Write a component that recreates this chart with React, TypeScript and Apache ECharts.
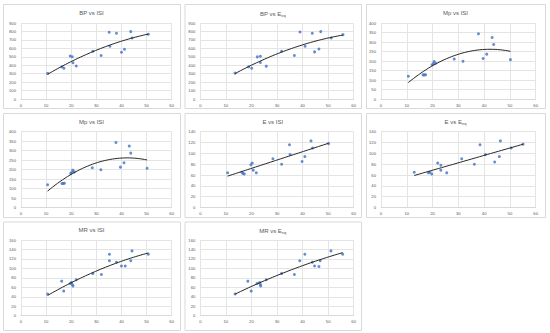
import React, { useEffect, useRef } from "react";
import * as echarts from "echarts";

// ---- data ----
const xTicks = [0, 10, 20, 30, 40, 50, 60];

const bpIsi: number[][] = [
  [10.6, 303], [16.3, 380], [17.1, 365], [19.6, 510], [20.4, 500], [20.7, 430], [22.0, 390],
  [28.6, 566], [31.9, 515], [35.1, 790], [35.4, 625], [38.0, 778], [40.0, 554], [41.2, 590],
  [43.7, 798], [44.2, 723], [50.7, 766],
];
const bpEeq: number[][] = [
  [13.6, 306], [18.9, 381], [20.1, 365], [22.3, 499], [23.5, 507], [23.5, 432], [25.8, 389],
  [31.8, 566], [36.8, 515], [39.0, 794], [41.0, 625], [43.8, 778], [44.7, 558], [46.4, 593],
  [47.1, 798], [51.2, 723], [55.8, 762],
];
const mpIsi: number[][] = [
  [10.6, 120], [16.3, 127], [16.8, 127], [17.3, 128], [19.8, 180], [20.3, 186], [20.6, 197],
  [21.2, 188], [28.4, 210], [31.8, 199], [37.8, 343], [39.6, 213], [41.0, 236], [43.1, 324],
  [43.7, 287], [50.2, 207],
];
const eIsi: number[][] = [
  [10.7, 64], [16.2, 65], [16.7, 63], [17.2, 62], [19.8, 79], [20.3, 82], [20.7, 69], [21.9, 64],
  [28.4, 90], [31.8, 80], [34.9, 116], [35.1, 98], [39.8, 85], [40.9, 94], [43.3, 123],
  [43.9, 110], [50.2, 118],
];
const eEeq: number[][] = [
  [12.9, 65], [18.4, 64], [19.0, 65], [19.7, 62], [22.0, 82], [23.2, 78], [23.2, 69], [25.5, 64],
  [31.3, 90], [36.2, 80], [38.4, 116], [40.5, 98], [44.1, 84], [45.9, 94], [46.3, 123],
  [50.5, 110], [55.1, 117],
];
const mrIsi: number[][] = [
  [10.6, 46], [16.2, 73], [17.0, 52], [19.6, 68], [20.1, 70], [20.4, 66], [20.7, 63], [22.0, 76],
  [28.6, 89], [32.0, 87], [35.2, 130], [35.2, 116], [38.0, 113], [40.0, 105], [41.5, 105],
  [43.7, 116], [44.2, 137], [50.7, 130],
];
const mrEeq: number[][] = [
  [13.6, 46], [18.6, 73], [19.9, 52], [22.2, 68], [23.2, 70], [23.5, 66], [23.6, 63], [25.8, 76],
  [31.8, 89], [36.8, 87], [38.9, 116], [40.9, 130], [43.8, 113], [44.7, 105], [46.4, 104],
  [46.9, 116], [51.1, 137], [55.7, 130],
];

// ---- least squares trendlines (polynomial of given order, like the spreadsheet's trendline) ----
function fit(pts: number[][], order: number): number[] {
  const n = order + 1;
  const A: number[][] = Array.from({ length: n }, () => new Array(n + 1).fill(0));
  for (const [x, y] of pts) {
    for (let r = 0; r < n; r++) {
      for (let c = 0; c < n; c++) A[r][c] += Math.pow(x, r + c);
      A[r][n] += y * Math.pow(x, r);
    }
  }
  for (let i = 0; i < n; i++) {
    let p = i;
    for (let k = i + 1; k < n; k++) if (Math.abs(A[k][i]) > Math.abs(A[p][i])) p = k;
    [A[i], A[p]] = [A[p], A[i]];
    for (let k = 0; k < n; k++) {
      if (k === i) continue;
      const f = A[k][i] / A[i][i];
      for (let c = i; c <= n; c++) A[k][c] -= f * A[i][c];
    }
  }
  return A.map((row, i) => row[n] / row[i]);
}
function trend(pts: number[][], order: number): number[][] {
  const co = fit(pts, order);
  const xs = pts.map((p) => p[0]);
  const lo = Math.min(...xs), hi = Math.max(...xs);
  const out: number[][] = [];
  const steps = 40;
  for (let i = 0; i <= steps; i++) {
    const x = lo + ((hi - lo) * i) / steps;
    out.push([x, co.reduce((s, c, k) => s + c * Math.pow(x, k), 0)]);
  }
  return out;
}

// ---- layout ----
const cols = [
  { left: 21, width: 150.7, box: [3, 180] },
  { left: 200.3, width: 153.4, box: [184.5, 361] },
  { left: 381, width: 154.7, box: [366, 545] },
];
const rows = [
  { top: 23, height: 76, box: [4, 108], titleTop: 10 },
  { top: 131.7, height: 75.8, box: [113, 217], titleTop: 118.7 },
  { top: 240, height: 75.7, box: [221.5, 330], titleTop: 227 },
];

const panels = [
  { title: "BP vs ISI", c: 0, r: 0, data: bpIsi, yMax: 900, yInt: 100, order: 2 },
  { title: "BP vs E{s|eq}", c: 1, r: 0, data: bpEeq, yMax: 900, yInt: 100, order: 2 },
  { title: "Mp vs ISI", c: 2, r: 0, data: mpIsi, yMax: 400, yInt: 50, order: 2 },
  { title: "Mp vs ISI", c: 0, r: 1, data: mpIsi, yMax: 400, yInt: 50, order: 2 },
  { title: "E vs ISI", c: 1, r: 1, data: eIsi, yMax: 140, yInt: 20, order: 1 },
  { title: "E vs E{s|eq}", c: 2, r: 1, data: eEeq, yMax: 140, yInt: 20, order: 1 },
  { title: "MR vs ISI", c: 0, r: 2, data: mrIsi, yMax: 160, yInt: 20, order: 2 },
  { title: "MR vs E{s|eq}", c: 1, r: 2, data: mrEeq, yMax: 160, yInt: 20, order: 2 },
];

const FONT = "Liberation Sans";
const GRID_COLOR = "#e4e4e4";
const LABEL_COLOR = "#595959";

export default function App() {
  const ref = useRef<HTMLDivElement>(null);
  useEffect(() => {
    document.body.style.margin = "0";
    const chart = echarts.init(ref.current!, undefined, { renderer: "svg" });
    const option: any = {
      animation: false,
      backgroundColor: "#ffffff",
      title: panels.map((p) => ({
        text: p.title,
        left: (cols[p.c].box[0] + cols[p.c].box[1]) / 2,
        top: rows[p.r].titleTop,
        textAlign: "center",
        padding: 0,
        textStyle: {
          fontFamily: FONT,
          fontSize: 6,
          fontWeight: "normal",
          color: LABEL_COLOR,
          rich: { s: { fontFamily: FONT, fontSize: 4, color: LABEL_COLOR, padding: [3, 0, 0, 0] } },
        },
      })),
      graphic: panels.map((p) => ({
        type: "rect",
        silent: true,
        shape: {
          x: cols[p.c].box[0] + 0.5,
          y: rows[p.r].box[0] + 0.5,
          width: cols[p.c].box[1] - cols[p.c].box[0],
          height: rows[p.r].box[1] - rows[p.r].box[0],
        },
        style: { fill: "none", stroke: "#d9d9d9", lineWidth: 1 },
      })),
      grid: panels.map((p) => ({
        left: cols[p.c].left,
        width: cols[p.c].width,
        top: rows[p.r].top,
        height: rows[p.r].height,
        containLabel: false,
      })),
      xAxis: panels.map((_, i) => ({
        type: "value",
        gridIndex: i,
        min: xTicks[0],
        max: xTicks[xTicks.length - 1],
        interval: xTicks[1] - xTicks[0],
        axisLine: { show: true, lineStyle: { color: "#d9d9d9", width: 1 } },
        axisTick: { show: false },
        splitLine: { show: true, lineStyle: { color: GRID_COLOR, width: 1 } },
        axisLabel: { fontFamily: FONT, fontSize: 4.2, color: LABEL_COLOR, margin: 4 },
      })),
      yAxis: panels.map((p, i) => ({
        type: "value",
        gridIndex: i,
        min: 0,
        max: p.yMax,
        interval: p.yInt,
        axisLine: { show: false },
        axisTick: { show: false },
        splitLine: { show: true, lineStyle: { color: GRID_COLOR, width: 1 } },
        axisLabel: { fontFamily: FONT, fontSize: 4.2, color: LABEL_COLOR, margin: 5 },
      })),
      series: panels.flatMap((p, i) => [
        {
          type: "scatter",
          xAxisIndex: i,
          yAxisIndex: i,
          data: p.data,
          symbol: "circle",
          symbolSize: 3,
          itemStyle: { color: "#4472C4" },
          silent: true,
        },
        {
          type: "line",
          xAxisIndex: i,
          yAxisIndex: i,
          data: trend(p.data, p.order),
          showSymbol: false,
          smooth: false,
          lineStyle: { color: "#262626", width: 1 },
          silent: true,
        },
      ]),
    };
    chart.setOption(option);
    return () => chart.dispose();
  }, []);
  return <div ref={ref} style={{ width: 550, height: 333 }} />;
}
